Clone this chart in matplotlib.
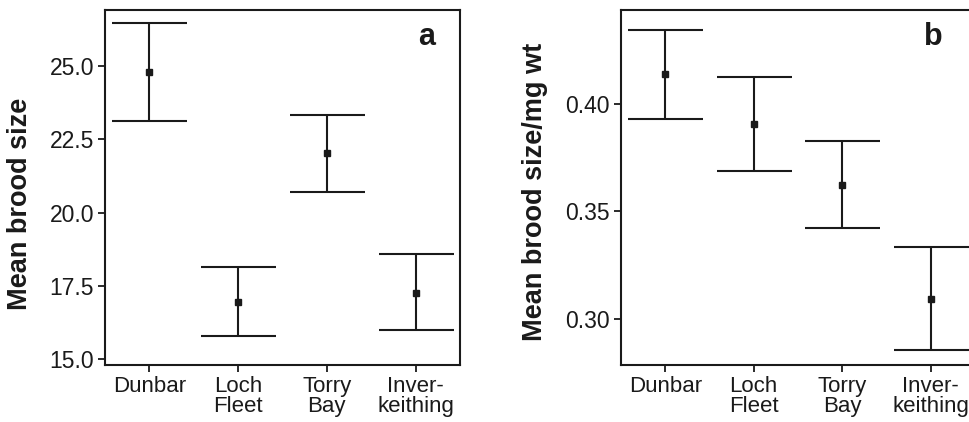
import numpy as np
import matplotlib
matplotlib.use('Agg')
import matplotlib.pyplot as plt

plt.rcParams['font.family'] = ['Liberation Sans', 'DejaVu Sans']

#site names and tick labels
sites = ['Dunbar', 'Loch\nFleet', 'Torry\nBay', 'Inver-\nkeithing']

#panel a: mean brood size with lower / upper interval ends
brood_mean = [24.81, 16.96, 22.02, 17.28]
brood_low = [23.12, 15.81, 20.71, 16.00]
brood_high = [26.46, 18.16, 23.33, 18.58]

#panel b: mean brood size per mg wt
bw_mean = [0.4138, 0.3909, 0.3624, 0.3094]
bw_low = [0.3932, 0.3690, 0.3421, 0.2854]
bw_high = [0.4344, 0.4127, 0.3826, 0.3333]

ink = '#1a1a1a'

fig = plt.figure(figsize=(9.7, 4.22), dpi=100)
ax_a = fig.add_axes([105/970, 57/422, 355/970, 355/422])
ax_b = fig.add_axes([621/970, 57/422, 354/970, 355/422])


def draw_panel(ax, mean, low, high, ylim, yticks, fmt, ylabel, tag, tag_x, lab_xy):
    x = np.arange(1, len(mean) + 1)
    mean = np.array(mean)
    err = [mean - np.array(low), np.array(high) - mean]
    ax.errorbar(x, mean, yerr=err, fmt='s', color=ink, ecolor=ink,
                markersize=4, elinewidth=1.5, capsize=27, capthick=1.5)
    ax.set_xlim(0.5, 4.5)
    ax.set_ylim(*ylim)
    ax.set_xticks(x)
    ax.set_xticklabels(sites, fontsize=16, color=ink, linespacing=0.95)
    ax.set_yticks(yticks)
    ax.set_yticklabels([fmt.format(v) for v in yticks], fontsize=16.5, color=ink)
    ax.tick_params(length=5, width=1.3, color=ink, pad=3)
    for s in ax.spines.values():
        s.set_linewidth(1.5)
        s.set_color(ink)
    ax.set_ylabel(ylabel, fontsize=19.5, fontweight='bold', color=ink)
    ax.yaxis.set_label_coords(*lab_xy)
    ax.text(tag_x, 0.925, tag, transform=ax.transAxes, fontsize=22,
            fontweight='bold', color=ink, ha='center', va='center')


draw_panel(ax_a, brood_mean, brood_low, brood_high, (14.81, 26.91),
           [15.0, 17.5, 20.0, 22.5, 25.0], '{:.1f}', 'Mean brood size', 'a', 0.907,
           ((33 - 105) / 355, 0.455))
draw_panel(ax_b, bw_mean, bw_low, bw_high, (0.2786, 0.4437),
           [0.30, 0.35, 0.40], '{:.2f}', 'Mean brood size/mg wt', 'b', 0.881,
           ((548 - 621) / 354, 0.489))

fig.savefig('out.png', dpi=100)
